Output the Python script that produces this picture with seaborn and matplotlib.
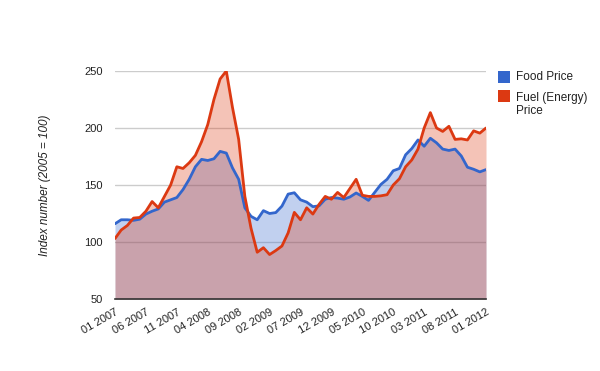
import pandas as pd
import seaborn as sns
import matplotlib.pyplot as plt
from matplotlib.patches import Rectangle

# Monthly index values, 01 2007 .. 01 2012 (2005 = 100)
food_price = [116, 119.5, 119.5, 119, 120, 124.5, 127, 129, 135, 137,
              139, 146, 155, 166, 172.5, 171.5, 173, 179.5, 178, 165,
              155, 130, 122.5, 119.5, 127.5, 125, 125.8, 131.5, 142, 143.2,
              137, 135, 131, 131.7, 137.5, 139, 138.5, 137.5, 139.5, 143,
              140, 136.5, 143.5, 150.5, 155, 162.5, 164.5, 176.5, 182, 189.5,
              184, 191, 187, 181.5, 180.3, 181.5, 175.5, 165.6, 163.8, 161.5,
              163.5]
fuel_price = [103, 110.5, 114.5, 121, 121.5, 127, 135.5, 130, 140, 150,
              166, 164.5, 169.5, 176, 188, 203, 225, 243, 250, 218,
              190, 140, 112, 91, 95, 89, 92.5, 96.5, 108, 126,
              119.5, 130, 124.5, 133, 140, 137.5, 143.5, 139, 147, 155,
              141, 140, 140, 140.5, 141.5, 150, 155.5, 166, 172, 181.5,
              200, 213.5, 200, 197, 201.5, 190, 190.5, 189.5, 197.5, 195.5,
              200]
tick_labels = ["01 2007", "06 2007", "11 2007", "04 2008", "09 2008",
               "02 2009", "07 2009", "12 2009", "05 2010", "10 2010",
               "03 2011", "08 2011", "01 2012"]
series_names = ["Food Price", "Fuel (Energy) Price"]
colors = ["#3366cc", "#dc3912"]

n = len(food_price)
df = pd.DataFrame({
    "month": list(range(n)) * 2,
    "value": food_price + fuel_price,
    "series": [series_names[0]] * n + [series_names[1]] * n,
})

sns.set_style("white")
plt.rcParams["font.family"] = ["Liberation Sans", "DejaVu Sans"]

W, H = 600, 371
fig = plt.figure(figsize=(W / 100, H / 100), dpi=100)
ax = fig.add_axes([115 / W, 1 - 299 / H, 371 / W, 228 / H])

# areas first (translucent fill), then lines on top
for name, col in zip(series_names, colors):
    sub = df[df["series"] == name]
    ax.fill_between(sub["month"], 50, sub["value"], color=col, alpha=0.3, lw=0)

sns.lineplot(data=df, x="month", y="value", hue="series", palette=colors,
             linewidth=2, legend=False, ax=ax)

ax.set_xlim(0, n - 1)
ax.set_ylim(50, 250)
ax.set_yticks([50, 100, 150, 200, 250])
ax.set_xticks(range(0, n, 5))
ax.set_xticklabels(tick_labels, rotation=30, ha="right", rotation_mode="anchor")
ax.tick_params(axis="both", length=0, labelsize=8, colors="#222222")
ax.tick_params(axis="y", pad=9)
ax.tick_params(axis="x", pad=6)
ax.grid(axis="y", color="#cccccc", linewidth=1)
ax.set_axisbelow(True)
for s in ["top", "right", "left"]:
    ax.spines[s].set_visible(False)
ax.spines["bottom"].set_color("#333333")
ax.spines["bottom"].set_linewidth(1.2)

ax.set_xlabel("")
ax.set_ylabel("Index number (2005 = 100)", fontsize=8.5, style="italic",
              color="#222222", labelpad=24)

# legend, Google-chart style: squares with text to the right
leg_rows = [("Food Price", 71, [76.5]), ("Fuel (Energy)\nPrice", 90, [97.5])]
for (label, top, _), col in zip(leg_rows, colors):
    fig.patches.append(Rectangle((498 / W, 1 - (top + 12) / H), 12 / W, 12 / H,
                                 transform=fig.transFigure, facecolor=col,
                                 edgecolor="none"))
fig.text(516 / W, 1 - 76.5 / H, "Food Price", fontsize=8.5, color="#222222",
         va="center", ha="left")
fig.text(516 / W, 1 - 97.5 / H, "Fuel (Energy)", fontsize=8.5, color="#222222",
         va="center", ha="left")
fig.text(516 / W, 1 - 111.5 / H, "Price", fontsize=8.5, color="#222222",
         va="center", ha="left")

fig.savefig("out.png", dpi=100)
